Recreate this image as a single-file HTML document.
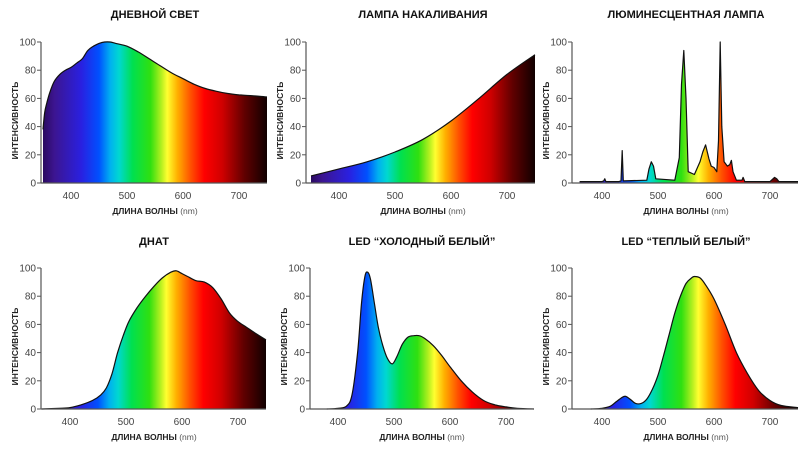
<!DOCTYPE html>
<html><head><meta charset="utf-8"><style>
html,body{margin:0;padding:0;background:#fff;}
svg{display:block;font-family:"Liberation Sans","DejaVu Sans",sans-serif;}
.t{font-weight:bold;font-size:11px;fill:#111;}
.tk{font-size:10px;fill:#444;}
.lb{font-weight:bold;font-size:8.5px;fill:#222;}
</style></head><body>
<svg id="c" width="811" height="452" viewBox="0 0 811 452">
<defs>
<linearGradient id="spec" x1="0" y1="0" x2="1" y2="0">
<stop offset="0" stop-color="#2a0a60"/>
<stop offset="0.05" stop-color="#3c1590"/>
<stop offset="0.17" stop-color="#2a20e0"/>
<stop offset="0.25" stop-color="#0050ff"/>
<stop offset="0.30" stop-color="#00b0f0"/>
<stop offset="0.34" stop-color="#00d8d0"/>
<stop offset="0.40" stop-color="#00e050"/>
<stop offset="0.48" stop-color="#30e010"/>
<stop offset="0.53" stop-color="#b8f020"/>
<stop offset="0.555" stop-color="#ffff30"/>
<stop offset="0.60" stop-color="#ffb000"/>
<stop offset="0.66" stop-color="#ff5000"/>
<stop offset="0.72" stop-color="#ff0000"/>
<stop offset="0.80" stop-color="#d00000"/>
<stop offset="0.90" stop-color="#600000"/>
<stop offset="1" stop-color="#100000"/>
</linearGradient>
</defs>
</svg>
<script>
const titles=["ДНЕВНОЙ СВЕТ","ЛАМПА НАКАЛИВАНИЯ","ЛЮМИНЕСЦЕНТНАЯ ЛАМПА","ДНАТ","LED \u201CХОЛОДНЫЙ БЕЛЫЙ\u201D","LED \u201CТЕПЛЫЙ БЕЛЫЙ\u201D"];
const xTicks=[400,500,600,700];
const yTicks=[0,20,40,60,80,100];
const daylightNm=[350,353,357,362,370,380,390,400,410,420,430,440,450,460,470,480,500,520,540,560,580,600,620,640,660,680,700,720,750];
const daylightVal=[38,50,57,64,72,77,80,82,85,88,94,97,99,100,100,99,97,93,88,83,78,74,70,67,65,63.5,62.5,62,61];
const incandNm=[350,400,450,500,550,600,650,700,750];
const incandVal=[5,10,15,22,31,44,60,77,91];
const fluorNm=[360,400,403,405,407,430,434,436,438,480,484,488,492,496,530,538,542,546,550,554,565,575,580,585,588,591,595,600,605,608,611,614,618,624,628,631,634,640,650,652,655,700,708,712,716,750];
const fluorVal=[1,1,1.5,3,1,1,1.5,23,1.5,2,10,15,12,3,2,18,70,94,60,8,6,15,22,27,22,17,12,11,8,30,100,40,15,12,13,16,8,2,2,4,1,1,4,3,1,1];
const hpsNm=[350,380,400,420,440,455,465,475,485,495,505,520,535,550,565,580,590,600,610,625,640,655,670,685,700,715,730,750];
const hpsVal=[0,0.5,1,3,6,10,15,25,40,52,62,72,80,87,93,97,98,96,94,91,90,86,78,68,62,58,54,49];
const coolNm=[380,400,415,425,435,442,448,453,458,465,472,480,488,497,505,515,525,535,545,555,570,585,600,620,640,660,680,700,720,750];
const coolVal=[0,0.5,2,10,40,75,94,97,92,75,58,45,36,32,37,46,51,52,52,50,45,38,30,20,12,6,3,1.5,0.5,0];
const warmNm=[380,400,415,425,435,442,450,460,470,480,490,500,510,520,530,540,550,560,565,575,585,600,620,640,660,680,700,720,750];
const warmVal=[0,0.5,2,5,8,9,7,4,4,7,14,24,38,53,68,80,89,93,94,93,88,78,60,40,25,13,6,2.5,1];
const series=[[daylightNm,daylightVal],[incandNm,incandVal],[fluorNm,fluorVal],[hpsNm,hpsVal],[coolNm,coolVal],[warmNm,warmVal]];
const smooth=[true,true,false,true,true,true];
const NS="http://www.w3.org/2000/svg";
const svg=document.getElementById('c');
const layout=[{ax:41,x4:71,y0:183,y1:42,ty:18},{ax:306,x4:339,y0:183,y1:42,ty:18},{ax:572,x4:602,y0:183,y1:42,ty:18},
{ax:41,x4:70,y0:409,y1:268,ty:245},{ax:310,x4:338,y0:409,y1:268,ty:245},{ax:572,x4:602,y0:409,y1:268,ty:245}];
function mk(tag,at,parent){const e=document.createElementNS(NS,tag);for(const k in at)e.setAttribute(k,at[k]);(parent||svg).appendChild(e);return e;}
function pathOf(P,sm){
  let d='M'+P[0][0].toFixed(1)+','+P[0][1].toFixed(1);
  for(let j=1;j<P.length;j++){
    if(!sm){d+=' L'+P[j][0].toFixed(1)+','+P[j][1].toFixed(1);continue;}
    const p0=P[Math.max(j-2,0)],p1=P[j-1],p2=P[j],p3=P[Math.min(j+1,P.length-1)];
    const c1=[p1[0]+(p2[0]-p0[0])/6,p1[1]+(p2[1]-p0[1])/6];
    const c2=[p2[0]-(p3[0]-p1[0])/6,p2[1]-(p3[1]-p1[1])/6];
    d+=' C'+c1[0].toFixed(1)+','+c1[1].toFixed(1)+' '+c2[0].toFixed(1)+','+c2[1].toFixed(1)+' '+p2[0].toFixed(1)+','+p2[1].toFixed(1);
  }
  return d;
}
layout.forEach((L,i)=>{
  const g=mk('g',{});
  
  
  const xs=nm=>L.x4+(nm-400)*0.56;
  const ys=v=>L.y0-(v/100)*(L.y0-L.y1);
  const t=mk('text',{x:xs(550),y:L.ty,'text-anchor':'middle',class:'t'},g);t.textContent=titles[i];
  
  
  const [nm,val]=series[i];
  const P=nm.map((n,j)=>[xs(n),ys(val[j])]);
  const ld=pathOf(P,smooth[i]);
  const d=ld+' L'+xs(nm[nm.length-1]).toFixed(1)+','+ys(0)+' L'+xs(nm[0]).toFixed(1)+','+ys(0)+' Z';
  const gid='g'+i;
  const lg=mk('linearGradient',{id:gid,gradientUnits:'userSpaceOnUse',x1:xs(350),y1:0,x2:xs(750),y2:0},svg.querySelector('defs'));
  document.querySelectorAll('#spec stop').forEach(s=>lg.appendChild(s.cloneNode()));
  const area=mk('path',{d:d,fill:'url(#'+gid+')',stroke:'none'},g);
  
  
  const ln=mk('path',{d:ld,fill:'none',stroke:'#111','stroke-width':1.2,'stroke-linejoin':'round'},g);
  
  
  const xa=mk('line',{x1:L.ax,x2:xs(750),y1:L.y0,y2:L.y0,stroke:'#555','stroke-width':1.2},g);
  
  
  const ya=mk('line',{x1:L.ax,x2:L.ax,y1:L.y0,y2:L.y1,stroke:'#555','stroke-width':1.2},g);
  
  
  yTicks.forEach(v=>{
    mk('line',{x1:L.ax-4,x2:L.ax,y1:ys(v),y2:ys(v),stroke:'#555'},g);
    const tt=mk('text',{x:L.ax-5,y:ys(v)+3.5,'text-anchor':'end',class:'tk'},g);tt.textContent=v;
    
    
  });
  xTicks.forEach(v=>{
    const tt=mk('text',{x:xs(v),y:L.y0+16,'text-anchor':'middle',class:'tk'},g);tt.textContent=v;
    
    
  });
  const xl=mk('text',{x:xs(550),y:L.y0+31,'text-anchor':'middle',class:'lb'},g);
  xl.innerHTML='ДЛИНА ВОЛНЫ <tspan style="font-weight:normal" fill="#555">(nm)</tspan>';
  
  
  const yx=L.ax-23, yy=(L.y0+L.y1)/2+8;
  const yl=mk('text',{x:yx,y:yy,'text-anchor':'middle',class:'lb',transform:'rotate(-90 '+yx+' '+yy+')'},g);
  yl.textContent='ИНТЕНСИВНОСТЬ';
  
  
});
</script>
</body></html>
